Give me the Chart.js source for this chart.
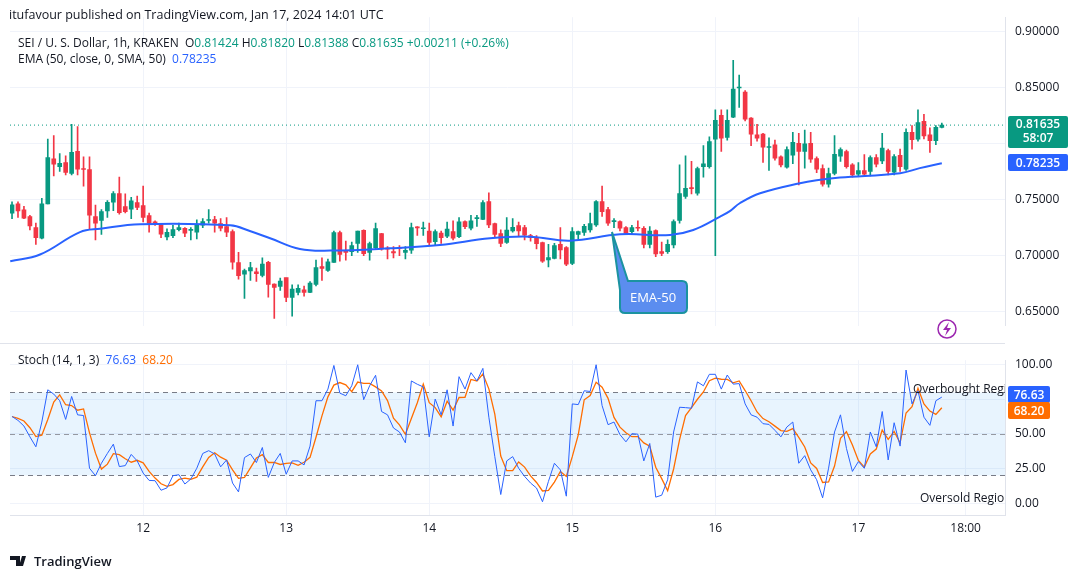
<!DOCTYPE html>
<html><head><meta charset="utf-8">
<script src="https://cdn.jsdelivr.net/npm/chart.js@4/dist/chart.umd.min.js"></script>
<style>
body{margin:0;width:1080px;height:579px;background:#fff;font-family:"Open Sans","Noto Sans",sans-serif;overflow:hidden;position:relative;color:#131722}
canvas{position:absolute;left:0}
.t{position:absolute;font-size:12px;white-space:nowrap}
.box{position:absolute;color:#fff;font-size:12px;font-weight:600;text-align:center;border-radius:2px}
</style></head><body>
<canvas id="p" width="1080" height="343" style="top:0"></canvas>
<canvas id="s" width="1080" height="200" style="top:343px"></canvas>
<div style="position:absolute;left:0;top:343px;width:1005px;height:1px;background:#e0e3eb"></div>
<div class="t" style="left:9px;top:6px;font-size:12.5px">itufavour published on TradingView.com, Jan 17, 2024 14:01 UTC</div>
<div class="t" style="left:18px;top:34px">SEI / U. S. Dollar, 1h, KRAKEN &nbsp;O<span style="color:#089981">0.81424</span> H<span style="color:#089981">0.81820</span> L<span style="color:#089981">0.81388</span> C<span style="color:#089981">0.81635</span> <span style="color:#089981">+0.00211 (+0.26%)</span></div>
<div class="t" style="left:18px;top:50px">EMA (50, close, 0, SMA, 50) &nbsp;<span style="color:#2962ff">0.78235</span></div>
<div class="t" style="left:18px;top:351px">Stoch (14, 1, 3) &nbsp;<span style="color:#2962ff">76.63</span> &nbsp;<span style="color:#ff6d00">68.20</span></div>
<div class="t" style="left:913px;top:380px;width:92px;overflow:hidden">Overbought Region</div>
<div class="t" style="left:920px;top:489px;width:85px;overflow:hidden">Oversold Region</div>
<div class="box" style="left:1008px;top:116px;width:60px;height:31px;background:#089981;line-height:14px;padding-top:1px">0.81635<br>58:07</div>
<div class="box" style="left:1008px;top:154px;width:60px;height:17px;background:#2962ff;line-height:17px">0.78235</div>
<div class="box" style="left:1008px;top:386px;width:42px;height:17px;background:#2962ff;line-height:17px">76.63</div>
<div class="box" style="left:1008px;top:402px;width:42px;height:17px;background:#ff6d00;line-height:17px">68.20</div>
<svg style="position:absolute;left:0;top:0" width="1080" height="579">
<path d="M612 232 L628 281 L682 281 Q687 281 687 286 L687 308 Q687 313 682 313 L625 313 Q620 313 620 308 L620 290 Z" fill="#5b8def" stroke="#1b93a0" stroke-width="2"/>
<text x="653" y="302" fill="#fff" font-size="13" text-anchor="middle" font-family="Open Sans">EMA-50</text>
<circle cx="947" cy="329" r="9" fill="none" stroke="#9c27b0" stroke-width="1.5"/>
<path d="M949 322 L943 330 L947 330 L945 336 L951 328 L947 328 Z" fill="#9c27b0"/>
<text x="34" y="566" fill="#131722" font-size="13" font-family="Open Sans" font-weight="600">TradingView</text>
<path d="M10 556 h10 v10 h-4 v-6 h-6z M22 556 l4 0 l-3 10 h-4z" fill="#131722"/>
</svg>
<script>
const O=[.7378,.7462,.7408,.7348,.7250,.7155,.7462,.7863,.7792,.7830,.7732,.7929,.7774,.7768,.7348,.7313,.7399,.7476,.7554,.7438,.7414,.7473,.7447,.7357,.7295,.7274,.7167,.7179,.7232,.7244,.7226,.7209,.7271,.7313,.7322,.7286,.7259,.7215,.6938,.6834,.6863,.6857,.6824,.6940,.6747,.6726,.6804,.6628,.6673,.6696,.6673,.6744,.6902,.6869,.6940,.7205,.7036,.7036,.7110,.7226,.7030,.7071,.7196,.7063,.7036,.7071,.7030,.7048,.7256,.7240,.7220,.7125,.7202,.7173,.7214,.7170,.7304,.7244,.7330,.7324,.7482,.7286,.7196,.7119,.7220,.7268,.7250,.7179,.7155,.7116,.6961,.6976,.7101,.7071,.6931,.7190,.7208,.7229,.7274,.7482,.7410,.7304,.7304,.7250,.7214,.7250,.7244,.7101,.7223,.7036,.7036,.7095,.7315,.7527,.7604,.7556,.7794,.7794,.8038,.8250,.8053,.8235,.8494,.8458,.8226,.8077,.8083,.7964,.7988,.7881,.7788,.7896,.8000,.7928,.8000,.7866,.7777,.7637,.7732,.7886,.7928,.7809,.7726,.7759,.7750,.7875,.7845,.7937,.7744,.7893,.7771,.8098,.8039,.8196,.8077,.8024,.8143];
const H=[.748,.748,.744,.736,.729,.751,.804,.807,.791,.789,.817,.815,.788,.788,.745,.741,.749,.757,.770,.755,.752,.753,.762,.738,.731,.728,.724,.727,.729,.725,.725,.732,.733,.741,.735,.733,.734,.723,.703,.688,.694,.689,.698,.695,.675,.680,.680,.674,.674,.673,.677,.696,.698,.697,.722,.722,.713,.712,.722,.723,.712,.729,.720,.708,.708,.709,.708,.729,.726,.730,.729,.723,.722,.730,.731,.734,.731,.736,.736,.749,.756,.729,.723,.734,.733,.730,.727,.719,.718,.712,.710,.711,.725,.708,.725,.722,.728,.738,.749,.762,.743,.733,.731,.726,.727,.731,.726,.726,.723,.712,.714,.732,.781,.789,.784,.779,.798,.806,.830,.830,.830,.874,.861,.847,.823,.817,.809,.805,.803,.789,.797,.810,.809,.812,.810,.788,.781,.778,.807,.796,.794,.782,.783,.790,.789,.790,.809,.795,.790,.795,.813,.816,.830,.826,.814,.816,.8182];
const L=[.733,.734,.733,.723,.710,.715,.746,.771,.775,.772,.772,.772,.762,.724,.714,.719,.734,.740,.737,.738,.733,.741,.730,.721,.727,.716,.714,.716,.722,.717,.714,.715,.725,.729,.721,.722,.717,.688,.679,.662,.678,.677,.681,.663,.644,.669,.659,.646,.665,.664,.667,.673,.678,.686,.694,.695,.696,.700,.703,.700,.696,.706,.705,.697,.698,.700,.697,.702,.718,.718,.709,.709,.711,.716,.714,.716,.724,.723,.726,.732,.725,.716,.708,.711,.721,.717,.714,.713,.706,.694,.690,.697,.697,.691,.692,.715,.718,.721,.726,.735,.727,.725,.722,.719,.719,.722,.707,.707,.699,.700,.702,.707,.729,.751,.755,.754,.770,.778,.700,.793,.803,.823,.832,.820,.798,.802,.783,.776,.785,.779,.778,.782,.763,.778,.783,.774,.762,.761,.772,.784,.778,.770,.771,.771,.771,.779,.782,.772,.772,.775,.776,.795,.802,.804,.792,.799,.8139];
const C=[.7452,.7399,.7333,.7265,.7161,.7462,.7875,.7816,.7822,.7741,.7920,.7771,.7768,.7360,.7289,.7393,.7476,.7554,.7384,.7393,.7488,.7429,.7340,.7289,.7292,.7191,.7209,.7232,.7250,.7200,.7229,.7274,.7304,.7316,.7289,.7244,.7209,.6941,.6822,.6866,.6893,.6839,.6926,.6744,.6717,.6774,.6628,.6702,.6708,.6673,.6756,.6893,.6887,.6946,.7205,.7012,.7030,.7089,.7220,.7018,.7107,.7241,.7060,.7058,.7024,.7065,.7048,.7250,.7247,.7244,.7119,.7214,.7161,.7238,.7155,.7301,.7259,.7310,.7333,.7473,.7274,.7190,.7110,.7229,.7253,.7220,.7182,.7161,.7107,.6952,.6982,.7089,.7051,.6925,.7214,.7214,.7262,.7286,.7482,.7393,.7289,.7312,.7244,.7199,.7250,.7244,.7101,.7220,.7015,.7021,.7101,.7303,.7553,.7601,.7598,.7776,.7818,.8017,.8205,.8047,.8205,.8485,.8503,.8217,.8083,.8047,.7967,.7973,.7869,.7809,.7946,.8009,.7928,.7997,.7860,.7771,.7637,.7732,.7902,.7946,.7794,.7720,.7759,.7726,.7875,.7815,.7958,.7750,.7884,.7794,.8098,.8033,.8187,.8068,.8024,.8143,.81635];
const emaIdx=[-0.3,4.7,11.4,14.8,21.5,36.6,39.9,43.3,48.3,53.4,63.4,71.8,80.2,86.9,93.6,102,110.4,114.3,118.8,120.5,122.1,125.5,132.2,135.6,138.9,149,152.3,156];
const emaVal=[.695,.701,.721,.724,.728,.727,.722,.7155,.706,.7045,.7065,.7095,.7155,.7169,.7134,.719,.7185,.7229,.7348,.7399,.7467,.7556,.7646,.7676,.7696,.7735,.778,.78235];
const K=[62.6,59.8,55.7,47.9,40.7,58.6,81.9,78.8,74.0,60.5,77.1,63.8,63.3,25.2,19.8,28.8,35.9,42.6,26.4,27.1,35.2,30.5,21.7,16.4,16.2,9.3,11.0,19.8,20.5,13.8,17.4,25.2,35.9,37.9,35.5,26.2,31.2,14.5,8.1,32.9,35.5,29.3,40.2,18.6,29.3,35.9,20.9,30.5,30.5,27.6,41.2,74.0,74.0,82.4,99.5,79.5,77.6,84.8,100,74.8,84.8,92.4,66.2,63.8,54.3,51.4,43.6,88.3,85.9,84.0,47.9,75.2,63.8,81.9,55.7,91.4,82.4,94.3,88.3,97.4,62.1,33.6,6.2,30.5,33.6,25.2,19.3,14.5,10.9,0.95,15.7,28.8,24.0,5.0,71.7,71.2,81.2,80.7,100,70.5,56.7,58.6,49.5,44.3,50.2,49.8,30.5,43.1,4.3,5.7,16.9,51.4,69.3,69.0,68.6,87.6,84.8,93.1,93.1,82.4,92.6,86.0,86.4,71.7,63.8,62.1,57.4,56.9,52.6,47.9,55.0,58.6,28.8,34.3,24.0,16.9,3.8,25.2,51.4,63.8,39.5,22.9,30.0,25.2,51.4,40.7,66.2,31.2,58.1,41.2,96.2,71.7,81.2,62.1,56.2,74.0,76.63];
const dayIdx=[22,46,70,94,118,142,160];
const dayLbl=['12','13','14','15','16','17','18:00'];
const priceTicks=[0.65,0.70,0.75,0.80,0.85,0.90];
const stochTicks=[0,25,50,75,100];
const lastPrice=0.81635;

const G='#089981',R='#f23645';
const col=C.map((c,i)=>c>=O[i]?G:R);
const X0=-0.34,X1=166.6;
const xs={type:'linear',offset:false,min:X0,max:X1,afterBuildTicks:a=>{a.ticks=dayIdx.slice(0,6).map(v=>({value:v}))},
  ticks:{display:false},grid:{color:'#f0f3fa',drawTicks:false,offset:false},border:{display:false},afterFit:a=>{a.height=0}};
const lastLine={id:'ll',afterDatasetsDraw(ch){const y=ch.scales.y.getPixelForValue(lastPrice),a=ch.chartArea,c=ch.ctx;
  c.save();c.strokeStyle=G;c.setLineDash([1,3]);c.beginPath();c.moveTo(a.left,y);c.lineTo(a.right,y);c.stroke();c.restore();}};
new Chart(document.getElementById('p'),{type:'bar',
 data:{datasets:[
  {type:'line',data:emaIdx.map((x,i)=>({x,y:emaVal[i]})),borderColor:'#2962ff',borderWidth:2,pointRadius:0,tension:0.4,order:0},
  {data:C.map((c,i)=>({x:i,y:[L[i],H[i]]})),backgroundColor:col,barThickness:1,grouped:false,order:2},
  {data:C.map((c,i)=>({x:i,y:[O[i],c]})),backgroundColor:col,barThickness:4,minBarLength:1,grouped:false,order:1}]},
 options:{responsive:false,animation:false,layout:{autoPadding:false,padding:{left:10,top:0,bottom:0,right:0}},
  plugins:{legend:{display:false},tooltip:{enabled:false}},
  scales:{x:xs,y:{position:'right',min:0.6375,max:0.9125,afterBuildTicks:a=>{a.ticks=priceTicks.map(v=>({value:v}))},
   ticks:{callback:v=>v.toFixed(5),color:'#131722',font:{size:12,family:'Open Sans'},padding:10},
   grid:{color:'#f0f3fa',drawTicks:false},border:{color:'#e0e3eb'},afterFit:a=>{a.width=75}}}},
 plugins:[lastLine]});

const D=K.map((v,i)=>{const s=K.slice(Math.max(0,i-2),i+1);return s.reduce((a,b)=>a+b,0)/s.length});
const band={id:'band',beforeDatasetsDraw(ch){const y=ch.scales.y,a=ch.chartArea,c=ch.ctx;c.save();
  c.fillStyle='rgba(33,150,243,0.1)';const t=y.getPixelForValue(80),b=y.getPixelForValue(20);c.fillRect(a.left,t,a.right-a.left,b-t);
  [[80,'#787b86',[5,4]],[50,'#9598a1',[5,4]],[20,'#787b86',[5,4]]].forEach(([v,s,d])=>{const p=Math.round(y.getPixelForValue(v))+0.5;
   c.strokeStyle=s;c.setLineDash(d);c.beginPath();c.moveTo(a.left,p);c.lineTo(a.right,p);c.stroke();});c.restore();}};
new Chart(document.getElementById('s'),{type:'line',
 data:{datasets:[
  {data:K.map((v,i)=>({x:i,y:v})),borderColor:'#2962ff',borderWidth:1,pointRadius:0},
  {data:D.map((v,i)=>({x:i,y:v})),borderColor:'#ff6d00',borderWidth:1.3,pointRadius:0}]},
 options:{responsive:false,animation:false,layout:{autoPadding:false,padding:{left:10,top:2,right:0,bottom:0}},
  plugins:{legend:{display:false},tooltip:{enabled:false}},
  scales:{x:{type:'linear',offset:false,min:X0,max:X1,afterBuildTicks:a=>{a.ticks=dayIdx.map(v=>({value:v}))},
    ticks:{callback:v=>dayLbl[dayIdx.indexOf(v)],color:'#131722',font:{size:12,family:'Open Sans'},padding:6,maxRotation:0,autoSkip:false},
    grid:{color:'#f0f3fa',drawTicks:false},border:{color:'#e0e3eb'},afterFit:a=>{a.height=28}},
   y:{position:'right',min:-8.6,max:103.3,afterBuildTicks:a=>{a.ticks=stochTicks.map(v=>({value:v}))},
    ticks:{callback:v=>v.toFixed(2),color:'#131722',font:{size:12,family:'Open Sans'},padding:10},
    grid:{color:'#f0f3fa',drawTicks:false},border:{color:'#e0e3eb'},afterFit:a=>{a.width=75}}}},
 plugins:[band]});
</script></body></html>
